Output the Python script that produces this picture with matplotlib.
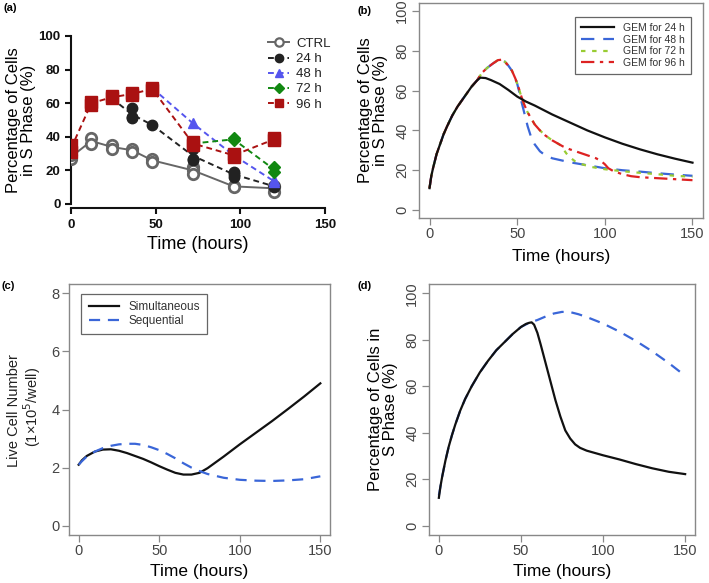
import matplotlib
matplotlib.use("Agg")
import matplotlib.pyplot as plt
import numpy as np

plt.rcParams['font.family'] = ['Liberation Sans', 'DejaVu Sans']

# ---------------- Panel (a) data ----------------
a_labels = ["CTRL", "24 h", "48 h", "72 h", "96 h"]
ctrl_t = [0, 12, 24, 36, 48, 72, 96, 120]
ctrl_reps = [[27, 29], [39, 36], [35, 33], [33, 31], [27, 25], [22, 20, 18], [11, 10], [11, 10, 7]]
h24_t = [24, 36, 48, 72, 96, 120]
h24_reps = [[63], [57, 52, 51], [47], [33, 27, 26], [19, 16, 18], [11, 10]]
h48_t = [48, 72, 96, 120]
h48_reps = [[69], [48], [29], [14, 13]]
h72_t = [72, 96, 120]
h72_reps = [[36], [39, 38], [22, 19]]
h96_t = [0, 12, 24, 36, 48, 72, 96, 120]
h96_reps = [[35, 31], [61, 59], [64, 63], [66, 65], [69, 68], [37, 35], [30, 28], [39, 38]]

# ---------------- Panel (b) data ----------------
b_labels = ["GEM for 24 h", "GEM for 48 h", "GEM for 72 h", "GEM for 96 h"]
rise_t = [0, 1, 2, 4, 6, 8, 10, 13, 16, 20, 24, 27]
rise_y = [11, 17, 21, 28, 33, 38, 42, 47.5, 52, 57, 62, 65]
g24_t = [29, 32, 35, 40, 45, 50, 55, 60, 70, 80, 90, 100, 110, 120, 130, 140, 150]
g24_y = [66.5, 66.3, 65.3, 63.3, 60.3, 57, 54.5, 52.5, 48, 44, 40, 36.5, 33.3, 30.5, 28, 25.8, 23.8]
peak_t = [30, 33, 36, 39, 41, 43, 45, 47, 49, 50]
peak_y = [69, 71.5, 73.5, 75.3, 75.5, 74.5, 72.5, 70, 66, 63.5]
g48_t = [51, 52, 54, 56, 58, 60, 63, 66, 70, 75, 80, 90, 100, 110, 120, 130, 140, 150]
g48_y = [60, 56, 49, 42, 36.5, 33, 29.5, 27.5, 26, 25, 24, 22.5, 21, 20, 19.3, 18.5, 17.8, 17.2]
late_t = [51, 52, 54, 56, 58, 60, 63, 66, 70, 74]
late_y = [61, 58, 53, 49, 46, 43, 40, 37.5, 35, 33]
g72_t = [76, 78, 80, 83, 87, 92, 100, 110, 120, 130, 140, 150]
g72_y = [31, 28.5, 26.5, 24.5, 23, 21.7, 20.5, 19.5, 18.7, 18, 17.2, 16.7]
g96_t = [76, 80, 85, 90, 95, 98, 100, 102, 105, 110, 115, 120, 130, 140, 150]
g96_y = [32, 30.5, 29, 27.5, 26, 24.5, 23, 21, 19.5, 18, 17, 16.5, 16, 15.5, 15]

# ---------------- Panel (c) data ----------------
c_labels = ["Simultaneous", "Sequential"]
sim_t = [0, 2, 5, 10, 15, 20, 25, 30, 35, 40, 45, 50, 55, 60, 65, 70, 75, 80, 90, 100, 110, 120, 130, 140, 150]
sim_y = [2.1, 2.25, 2.4, 2.55, 2.62, 2.63, 2.58, 2.5, 2.4, 2.3, 2.18, 2.05, 1.93, 1.82, 1.76, 1.76, 1.82,
         1.98, 2.38, 2.8, 3.2, 3.6, 4.02, 4.45, 4.9]
seq_t = [0, 2, 5, 10, 15, 20, 25, 30, 35, 40, 45, 50, 55, 60, 65, 70, 75, 80, 90, 100, 110, 120, 130, 140, 150]
seq_y = [2.1, 2.22, 2.38, 2.55, 2.67, 2.75, 2.8, 2.82, 2.82, 2.78, 2.7, 2.6, 2.47, 2.32, 2.15, 2.0, 1.88,
         1.78, 1.65, 1.58, 1.55, 1.54, 1.56, 1.6, 1.7]

# ---------------- Panel (d) data ----------------
d_sim_t = [0, 1, 2, 4, 6, 8, 10, 13, 16, 20, 25, 30, 35, 40, 45, 50, 53, 55, 56.5, 58, 60, 62, 65, 68, 71,
           74, 77, 80, 83, 86, 90, 100, 110, 120, 130, 140, 150]
d_sim_y = [12, 17, 21, 28, 34, 39, 43.5, 49.5, 54.5, 60, 66, 71, 75.5, 79, 82.5, 85.5, 86.8, 87.3, 87.5,
           86.5, 83, 78, 70, 62, 54, 47, 41, 37.5, 35, 33.5, 32.3, 30.3, 28.5, 26.5, 24.7, 23.2, 22.2]
d_seq_t = [0, 1, 2, 4, 6, 8, 10, 13, 16, 20, 25, 30, 35, 40, 45, 50, 55, 60, 65, 70, 75, 80, 85, 90, 100,
           110, 120, 130, 140, 150]
d_seq_y = [13, 17, 21, 28, 34, 39, 43.5, 49.5, 54.5, 60, 66, 71, 75.5, 79, 82.5, 85.5, 87.3, 88.5, 90,
           91.3, 92, 91.9, 91, 89.8, 87, 83.5, 79.5, 75, 70, 64.5]

W, H = 709, 583
fig = plt.figure(figsize=(W / 100, H / 100), dpi=100)


def px_axes(l, t, r, b):
    return fig.add_axes([l / W, 1 - b / H, (r - l) / W, (b - t) / H])


# ================= Panel (a) =================
ax = px_axes(71, 36, 325, 204)
series = [
    (ctrl_t, ctrl_reps, "#666666", "o", "-", "none", a_labels[0]),
    (h24_t, h24_reps, "#222222", "o", (0, (3, 2)), "#222222", a_labels[1]),
    (h48_t, h48_reps, "#5555ee", "^", (0, (3, 2)), "#5555ee", a_labels[2]),
    (h72_t, h72_reps, "#118811", "D", (0, (3, 2)), "#118811", a_labels[3]),
    (h96_t, h96_reps, "#aa1111", "s", (0, (3, 2)), "#aa1111", a_labels[4]),
]
handles = []
for t, reps, col, mk, ls, fc, lab in series:
    means = [np.mean(r) for r in reps]
    ax.plot(t, means, color=col, linestyle=ls, lw=1.4, zorder=2)
    xs = [ti for ti, r in zip(t, reps) for _ in r]
    ys = [v for r in reps for v in r]
    ms = 7.5 if mk != "D" else 6.5
    if mk == "s":
        ms = 8.5
    ax.plot(xs, ys, linestyle="none", marker=mk, ms=ms, mfc=(fc if fc != "none" else "white"),
            mec=col, mew=2 if fc == "none" else 1, color=col, zorder=3)
    h, = ax.plot([], [], color=col, linestyle=ls, lw=1.4, marker=mk, ms=6 if mk != "D" else 5,
                 mfc=(fc if fc != "none" else "white"), mec=col, mew=1.6 if fc == "none" else 1)
    handles.append(h)
ax.set_xlim(0, 150)
ax.set_ylim(0, 100)
ax.set_xticks([0, 50, 100, 150])
ax.set_yticks([0, 20, 40, 60, 80, 100])
for s in ["top", "right"]:
    ax.spines[s].set_visible(False)
ax.spines["bottom"].set_position(("outward", 3))
for s in ["left", "bottom"]:
    ax.spines[s].set_linewidth(1.5)
    ax.spines[s].set_color("#111111")
ax.tick_params(direction="out", length=4, width=1.5, labelsize=9.5, colors="#111111")
for lbl in ax.get_xticklabels() + ax.get_yticklabels():
    lbl.set_fontweight("bold")
ax.set_xlabel("Time (hours)", fontsize=13, labelpad=4)
ax.set_ylabel("Percentage of Cells\nin S Phase (%)", fontsize=12, labelpad=2, linespacing=1.0)
leg = ax.legend(handles, a_labels, loc="upper left", bbox_to_anchor=(0.73, 1.06), frameon=False,
                fontsize=9.5, handlelength=1.6, handletextpad=0.5, labelspacing=0.22)
for txt in leg.get_texts():
    txt.set_color("#222222")


# Common styling for R-like panels
def r_style(ax, yl, yticks, yrot):
    ax.set_xlim(-6, 156)
    ax.set_ylim(yl)
    ax.set_xticks([0, 50, 100, 150])
    ax.set_yticks(yticks)
    for s in ax.spines.values():
        s.set_color("#888888")
        s.set_linewidth(1.0)
    ax.tick_params(direction="out", length=5, width=0.9, color="#888888", labelcolor="#444444",
                   labelsize=10.5)
    ax.tick_params(axis="x", pad=1.5)
    ax.tick_params(axis="y", pad=2)
    if yrot:
        for lbl in ax.get_yticklabels():
            lbl.set_rotation(90)
            lbl.set_va("center")


# ================= Panel (b) =================
ax = px_axes(419, 3, 703, 218)
c_blue = "#3a66d8"
c_green = "#99cc33"
c_red = "#dd2222"
ax.plot(rise_t + peak_t + g48_t, rise_y + peak_y + g48_y, color=c_blue, lw=1.6, dashes=(6, 4),
        label=b_labels[1])
ax.plot(rise_t + peak_t + late_t + g72_t, rise_y + peak_y + late_y + g72_y, color=c_green, lw=1.6,
        dashes=(2, 3), label=b_labels[2])
ax.plot(rise_t + peak_t + late_t + g96_t, rise_y + peak_y + late_y + g96_y, color=c_red, lw=1.6,
        dashes=(6, 2.5, 1.5, 2.5), label=b_labels[3])
ax.plot(rise_t + g24_t, rise_y + g24_y, color="#111111", lw=1.6, label=b_labels[0])
r_style(ax, (-4, 104), [0, 20, 40, 60, 80, 100], True)
h, l = ax.get_legend_handles_labels()
order = [3, 0, 1, 2]
lg = ax.legend([h[i] for i in order], [l[i] for i in order], loc="upper right",
               bbox_to_anchor=(0.975, 0.96), fontsize=7.5, handlelength=3.2, labelspacing=0.15,
               borderpad=0.6, fancybox=False, edgecolor="#666666", framealpha=1)
lg.get_frame().set_linewidth(0.9)
for txt in lg.get_texts():
    txt.set_color("#333333")
ax.set_xlabel("Time (hours)", fontsize=12.5, labelpad=6)
ax.set_ylabel("Percentage of Cells\nin S Phase (%)", fontsize=12, labelpad=5, linespacing=1.0)

# ================= Panel (c) =================
ax = px_axes(69, 284, 330, 535)
ax.plot(sim_t, sim_y, color="#111111", lw=1.6, label=c_labels[0])
ax.plot(seq_t, seq_y, color=c_blue, lw=1.6, dashes=(5, 3.5), label=c_labels[1])
r_style(ax, (-0.32, 8.32), [0, 2, 4, 6, 8], False)
lg = ax.legend(loc="upper left", bbox_to_anchor=(0.025, 0.985), fontsize=8.5, handlelength=2.6,
               labelspacing=0.2, borderpad=0.6, fancybox=False, edgecolor="#666666", framealpha=1)
lg.get_frame().set_linewidth(0.9)
for txt in lg.get_texts():
    txt.set_color("#333333")
ax.set_xlabel("Time (hours)", fontsize=12.5, labelpad=4)
fig.text(14 / W, 1 - 411 / H, "Live Cell Number", rotation=90, fontsize=10.5, ha="center",
         va="center", color="#222222")
fig.text(32 / W, 1 - 407 / H, "(1\u00d710$^5$/well)", rotation=90, fontsize=10.5, ha="center",
         va="center", color="#222222")

# ================= Panel (d) =================
ax = px_axes(429, 284, 695, 535)
ax.plot(d_seq_t, d_seq_y, color=c_blue, lw=1.6, dashes=(5, 3.5))
ax.plot(d_sim_t, d_sim_y, color="#111111", lw=1.6)
r_style(ax, (-4, 104), [0, 20, 40, 60, 80, 100], True)
ax.set_xlabel("Time (hours)", fontsize=12.5, labelpad=4)
ax.set_ylabel("Percentage of Cells in\nS Phase (%)", fontsize=12, labelpad=5, linespacing=1.0)

# Panel letters
for x, y, s in [(4, 8, "(a)"), (358, 11, "(b)"), (2, 286, "(c)"), (357, 286, "(d)")]:
    fig.text(x / W, 1 - y / H, s, fontsize=8, fontweight="bold", ha="left", va="center")

fig.savefig("out.png", dpi=100, facecolor="white")
